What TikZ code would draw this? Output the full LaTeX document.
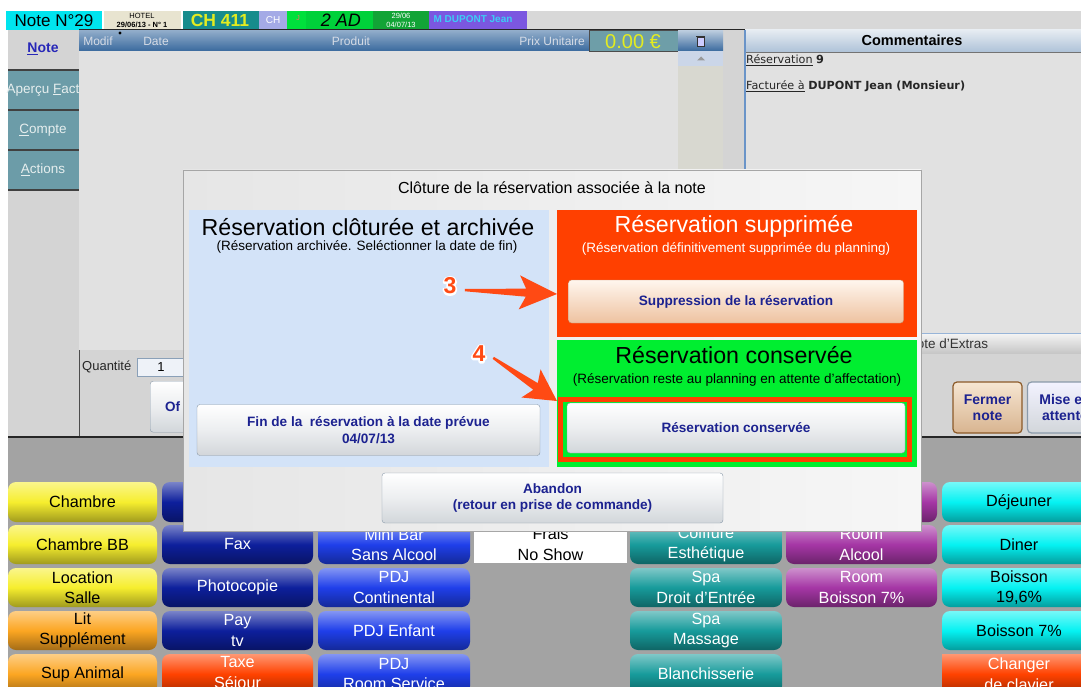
\documentclass[tikz,border=0pt]{standalone}
\usepackage{fontspec}
\setmainfont{Liberation Sans}
\newfontfamily\verdfont{DejaVu Sans}
\usetikzlibrary{calc}
\definecolor{barcyan}{HTML}{00E4EE}
\definecolor{barbeige}{HTML}{E8E4D0}
\definecolor{barteal}{HTML}{178C8C}
\definecolor{barlav}{HTML}{A4AAE6}
\definecolor{barjgreen}{HTML}{00E03C}
\definecolor{bargreen}{HTML}{00D13A}
\definecolor{bardgreen}{HTML}{12A436}
\definecolor{barpurple}{HTML}{7B57E0}
\definecolor{barname}{HTML}{3CCDF5}
\definecolor{barrest}{HTML}{D8D8D8}
\definecolor{chyellow}{HTML}{E4EC20}
\definecolor{maingrey}{HTML}{D4D4D4}
\definecolor{tablebg}{HTML}{E1E1E1}
\definecolor{tabc}{HTML}{6C9CA8}
\definecolor{tabtext}{HTML}{E6EEEE}
\definecolor{notetab}{HTML}{2828B8}
\definecolor{hdtop}{HTML}{93AECB}
\definecolor{hdbot}{HTML}{3A6A9E}
\definecolor{hdtext}{HTML}{D6DCE6}
\definecolor{pricebg}{HTML}{6E9EA8}
\definecolor{scrolltop}{HTML}{CBD6E8}
\definecolor{scrollbg}{HTML}{D8D8D0}
\definecolor{combord}{HTML}{6A94C8}
\definecolor{comtop}{HTML}{E6ECF2}
\definecolor{combot}{HTML}{AEC2D8}
\definecolor{btntext}{HTML}{1C2290}
\definecolor{btnborder}{HTML}{8A9AAA}
\definecolor{btnbot}{HTML}{D2D6DA}
\definecolor{btnmid}{HTML}{ECEEF0}
\definecolor{peachtop}{HTML}{FFF6EE}
\definecolor{peachbot}{HTML}{EEC2A0}
\definecolor{peachborder}{HTML}{C88E68}
\definecolor{fermtop}{HTML}{F6E6D2}
\definecolor{fermbot}{HTML}{D8B490}
\definecolor{fermborder}{HTML}{8C5A28}
\definecolor{kbbg}{HTML}{A3A3A3}
\definecolor{kyellow}{HTML}{F6EE2E}
\definecolor{korange}{HTML}{FCA622}
\definecolor{kdblue}{HTML}{0D1F9C}
\definecolor{kblue}{HTML}{1F3FEA}
\definecolor{kred}{HTML}{FF4200}
\definecolor{kteal}{HTML}{179B9B}
\definecolor{kpurple}{HTML}{A536A5}
\definecolor{kcyan}{HTML}{05F2F2}
\definecolor{panblue}{HTML}{D3E3F8}
\definecolor{panred}{HTML}{FF4000}
\definecolor{pangreen}{HTML}{00EE30}
\definecolor{callred}{HTML}{FF4A14}
\definecolor{dlgl}{HTML}{E6E6E6}
\definecolor{dlgr}{HTML}{F6F6F6}
\definecolor{qbox}{HTML}{EEF2F8}
\definecolor{qborder}{HTML}{8AA0B8}
\tikzset{
  key/.style={rounded corners=8pt, minimum height=39pt, minimum width=150pt, inner sep=0pt,
    align=center, font=\fontsize{16.2}{20.5}\selectfont,
    top color=#1!55!white, bottom color=#1!65!black, middle color=#1},
  dlgbtn/.style={rounded corners=3pt, draw=btnborder, top color=white, bottom color=btnbot,
    middle color=btnmid, inner sep=0pt, align=center,
    font=\bfseries\fontsize{13.6}{16.5}\selectfont, text=btntext},
  pantitle/.style={inner sep=0pt, font=\fontsize{23.2}{24}\selectfont},
  pansub/.style={inner sep=0pt, font=\fontsize{13.5}{15}\selectfont},
  tabtxt/.style={inner sep=0pt, font=\fontsize{13.5}{15}\selectfont, text=tabtext},
  hdtxt/.style={inner sep=0pt, font=\fontsize{12}{13}\selectfont, text=hdtext},
  small/.style={inner sep=0pt, font=\fontsize{7.5}{8}\selectfont},
  callnum/.style={inner sep=0pt, font=\bfseries\fontsize{23}{23}\selectfont},
  comtxt/.style={inner sep=0pt, anchor=west, font=\verdfont\fontsize{11.2}{13}\selectfont, text=black!85}
}
\newcommand\callarrow[2]{%
  \fill[callred] (#2)
   -- ($(#1)!0.60!(#2)!17pt!90:(#2)$)
   -- ($(#1)!0.67!(#2)!4pt!90:(#2)$)
   -- ($(#1)!0.02!(#2)!1.2pt!90:(#2)$)
   -- ($(#1)!0.02!(#2)!1.2pt!-90:(#2)$)
   -- ($(#1)!0.67!(#2)!4pt!-90:(#2)$)
   -- ($(#1)!0.60!(#2)!17pt!-90:(#2)$)
   -- cycle;}
\newcommand\strokedigit[1]{\special{pdf:literal direct 1 Tr 1 1 1 RG 3.5 w 1 j}#1\special{pdf:literal direct 0 Tr}}
\begin{document}
\begin{tikzpicture}[x=1pt,y=-1pt]
\useasboundingbox (0,0) rectangle (1081,687);
\clip (0,0) rectangle (1081,687);
\fill[white] (0,0) rectangle (1081,687);

% ---------- top bar
\fill[barcyan] (6,11) rectangle (102,30);
\node[inner sep=0pt, font=\fontsize{17}{17}\selectfont] (notenum) at (54,20.5) {Note N°29};
\fill[barbeige] (104,11) rectangle (181,30);
\node[small] (hotel) at (142,16) {HOTEL};
\node[small, font=\bfseries\fontsize{7.5}{8}\selectfont] (hdate) at (142,25) {29/06/13 - N° 1};
\fill[barteal] (183,11) rectangle (259,30);
\node[inner sep=0pt, font=\bfseries\fontsize{17.5}{18}\selectfont, text=chyellow] (room) at (220,20.5) {CH 411};
\fill[barlav] (259,11) rectangle (287,30);
\node[inner sep=0pt, font=\fontsize{10}{10}\selectfont, text=white] (chtype) at (273,20) {CH};
\fill[barjgreen] (287,11) rectangle (306,30);
\node[inner sep=0pt, font=\fontsize{7}{7}\selectfont, text=red!60] (jmark) at (298,18) {J};
\fill[bargreen] (306,11) rectangle (373,30);
\node[inner sep=0pt, font=\itshape\fontsize{18}{18}\selectfont] (adults) at (341,20.5) {2 AD};
\fill[bardgreen] (373,11) rectangle (429,30);
\node[small, text=white] (d1) at (401,15.5) {29/06};
\node[small, text=white] (d2) at (401,25) {04/07/13};
\fill[barpurple] (429,11) rectangle (527,30);
\node[inner sep=0pt, font=\bfseries\fontsize{10}{10}\selectfont, text=barname] (guest) at (473,19) {M DUPONT Jean};
\fill[barrest] (527,11) rectangle (1081,30);

% ---------- main area
\fill[maingrey] (8,30) rectangle (1081,437);
\fill[tabc] (8,70) rectangle (79,190);
\foreach \yy in {70,110,150,190} \draw[black!75, line width=1.2pt] (8,\yy) -- (79,\yy);
\draw[black!70, line width=1pt] (79,30) -- (79,437);
\node[inner sep=0pt, font=\bfseries\fontsize{14}{15}\selectfont, text=notetab] (tnote) at (43,49) {\underline{N}ote};
\node[tabtxt] (tfact) at (43,90) {Aperçu \underline{F}act};
\node[tabtxt] (tcompte) at (43,130) {\underline{C}ompte};
\node[tabtxt] (tactions) at (43,170) {\underline{A}ctions};

\fill[tablebg] (79,51) rectangle (678,350);
\shade[top color=hdtop, bottom color=hdbot] (79,30) rectangle (589,51);
\node[hdtxt] (hmodif) at (98,41) {Modif};
\node[hdtxt] (hdate2) at (156,41) {Date};
\node[hdtxt] (hprod) at (351,41) {Produit};
\node[hdtxt, anchor=east] (hprix) at (585,41) {Prix Unitaire};
\fill[black] (120,33) circle (1.6);
\fill[pricebg] (589,30) rectangle (678,51);
\draw[black!70] (589,30) rectangle (678,51);
\node[inner sep=0pt, font=\fontsize{20}{20}\selectfont, text=chyellow] (price) at (633,42) {0.00 €};
\shade[top color=hdtop!60!white, bottom color=hdbot] (678,30) rectangle (723,51);
\draw[black!80, line width=0.8pt, fill=white!80!blue] (697.5,37) rectangle (704.5,46);
\draw[black!80, line width=0.8pt] (696,36) -- (705,36);
\fill[scrolltop] (678,51) rectangle (723,66);
\fill[black!40] (697,60.5) -- (705,60.5) -- (701,56.5) -- cycle;
\fill[scrollbg] (678,66) rectangle (723,350);
\draw[black!85, line width=1pt] (79,30) -- (1081,30);

% comments panel
\shade[top color=comtop, bottom color=combot] (745,30) rectangle (1081,52);
\fill[tablebg] (745,52) rectangle (1081,333);
\draw[black!55] (745,52) -- (1081,52);
\draw[combord, line width=1.2pt] (745,30) -- (745,333);
\node[inner sep=0pt, font=\bfseries\fontsize{14.5}{15}\selectfont] (comhead) at (912,40) {Commentaires};
\node[comtxt] (cres) at (746,60) {\underline{Réservation} \textbf{9}};
\node[comtxt] (cfac) at (746,86) {\underline{Facturée à} \textbf{DUPONT Jean (Monsieur)}};
\shade[top color=white!96!black, bottom color=black!22] (745,333) rectangle (1081,353);
\draw[combord!70] (745,333) -- (1081,333);
\node[inner sep=0pt, anchor=west, font=\fontsize{13.5}{14}\selectfont, text=black!80] (extras) at (907,344) {Note d'Extras};

% lower main
\node[inner sep=0pt, anchor=west, font=\fontsize{13}{14}\selectfont, text=black!85] (qlabel) at (82,367) {Quantité};
\draw[qborder, fill=qbox] (137,358) rectangle (195,376);
\node[inner sep=0pt, font=\fontsize{13}{14}\selectfont] (qval) at (161,367) {1};
\node[dlgbtn, minimum width=60pt, minimum height=51pt, anchor=north west] (offbtn) at (150,381) {};
\node[inner sep=0pt, anchor=west, font=\bfseries\fontsize{13.5}{14}\selectfont, text=btntext] (offtxt) at (165,407) {Of};
\node[rounded corners=4pt, draw=fermborder, line width=1.2pt, top color=fermtop, bottom color=fermbot,
  minimum width=69pt, minimum height=51pt, inner sep=0pt, align=center,
  font=\bfseries\fontsize{14}{16.5}\selectfont, text=btntext] (fermer) at (987.5,407.5) {Fermer\\note};
\node[rounded corners=4pt, draw=btnborder, line width=1.2pt, top color=white!95!blue, bottom color=btnbot,
  minimum width=75pt, minimum height=51pt, inner sep=0pt, align=center,
  font=\bfseries\fontsize{14}{16.5}\selectfont, text=btntext] (attente) at (1065,407.5) {Mise en\\attente};

% ---------- keyboard
\fill[kbbg] (8,437) rectangle (1081,687);
\draw[black!85, line width=1.2pt] (8,437) -- (1081,437);

\node[key=kyellow, minimum width=149pt, minimum height=40pt] (k11) at (82.5,502) {Chambre};
\node[key=kyellow, minimum width=149pt] (k12) at (82.5,544.5) {Chambre BB};
\node[key=kyellow, minimum width=149pt] (k13) at (82.5,587.5) {Location\\Salle};
\node[key=korange, minimum width=149pt] (k14) at (82.5,630.5) {Lit\\Supplément};
\node[key=korange, minimum width=149pt, minimum height=40pt] (k15) at (82.5,674) {Sup Animal};

\node[key=kdblue, minimum width=151pt, minimum height=40pt] (k21) at (237.5,502) {};
\node[key=kdblue, minimum width=151pt, text=white] (k22) at (237.5,544.5) {Fax};
\node[key=kdblue, minimum width=151pt, text=white] (k23) at (237.5,587.5) {Photocopie};
\node[key=kdblue, minimum width=151pt, text=white] (k24) at (237.5,630.5) {Pay\\tv};
\node[key=kred, minimum width=151pt, minimum height=40pt, text=white] (k25) at (237.5,674) {Taxe\\Séjour};

\node[key=kblue, minimum width=152pt, text=white] (k32) at (394,544.5) {Mini Bar\\Sans Alcool};
\node[key=kblue, minimum width=152pt, text=white] (k33) at (394,587.5) {PDJ\\Continental};
\node[key=kblue, minimum width=152pt, text=white] (k34) at (394,630.5) {PDJ Enfant};
\node[key=kblue, minimum width=152pt, minimum height=40pt, text=white] (k35) at (394,674) {PDJ\\Room Service};

\node[fill=white, minimum width=153pt, minimum height=38pt, inner sep=0pt, align=center,
  font=\fontsize{16.2}{20.5}\selectfont] (k42) at (550.5,544) {Frais\\No Show};

\node[key=kteal, minimum width=152pt, text=white] (k52) at (706,544.5) {Coiffure\\Esthétique};
\node[key=kteal, minimum width=152pt, text=white] (k53) at (706,587.5) {Spa\\Droit d'Entrée};
\node[key=kteal, minimum width=152pt, text=white] (k54) at (706,630.5) {Spa\\Massage};
\node[key=kteal, minimum width=152pt, minimum height=40pt, text=white] (k55) at (706,674) {Blanchisserie};

\node[key=kpurple, minimum width=151pt, minimum height=40pt] (k61) at (861.5,502) {};
\node[key=kpurple, minimum width=151pt, text=white] (k62) at (861.5,544.5) {Room\\Alcool};
\node[key=kpurple, minimum width=151pt, text=white] (k63) at (861.5,587.5) {Room\\Boisson 7\%};

\node[key=kcyan, minimum width=154pt, minimum height=40pt] (k71) at (1019,502) {Déjeuner};
\node[key=kcyan, minimum width=154pt] (k72) at (1019,544.5) {Diner};
\node[key=kcyan, minimum width=154pt] (k73) at (1019,587.5) {Boisson\\19,6\%};
\node[key=kcyan, minimum width=154pt] (k74) at (1019,630.5) {Boisson 7\%};
\node[key=kred, rounded corners=0pt, minimum width=154pt, minimum height=40pt, text=white] (k75) at (1019,674) {Changer\\de clavier};

% ---------- dialog
\shade[left color=dlgl, right color=dlgr] (183,170) rectangle (921,531);
\draw[black!35] (183,170) rectangle (921,531);
\node[inner sep=0pt, font=\fontsize{16}{17}\selectfont] (dlgtitle) at (552,188) {Clôture de la réservation associée à la note};

\fill[panblue] (189,210) rectangle (549,467);
\fill[panred] (557,210) rectangle (917,337);
\fill[pangreen] (557,340) rectangle (917,467);

\node[pantitle] (ptit1) at (368,227) {Réservation clôturée et archivée};
\node[pansub] (psub1) at (367,247) {(Réservation archivée. Seléctionner la date de fin)};
\node[pantitle, text=white] (ptit2) at (734,226) {Réservation supprimée};
\node[pansub, text=white] (psub2) at (736,249) {(Réservation définitivement supprimée du planning)};
\node[pantitle] (ptit3) at (734,355) {Réservation conservée};
\node[pansub] (psub3) at (737,380) {(Réservation reste au planning en attente d'affectation)};

\node[dlgbtn, minimum width=343pt, minimum height=51pt] (bfin) at (368.5,430) {Fin de la \ réservation à la date prévue\\04/07/13};
\node[dlgbtn, draw=peachborder, top color=peachtop, bottom color=peachbot, middle color=peachtop!50!peachbot,
  minimum width=335pt, minimum height=43pt] (bsupp) at (736,301.5) {Suppression de la réservation};
\draw[panred, line width=5pt] (560.5,399.5) rectangle (909.5,459.5);
\node[dlgbtn, minimum width=338pt, minimum height=50pt] (bcons) at (736,428) {Réservation conservée};
\node[dlgbtn, minimum width=341pt, minimum height=50pt] (babandon) at (552.5,498) {Abandon\\(retour en prise de commande)};

% ---------- callouts
\coordinate (tail3) at (463,290);
\coordinate (tip3) at (557,294);
\coordinate (tail4) at (492,357);
\coordinate (tip4) at (557,401);
\callarrow{tail3}{tip3}
\callarrow{tail4}{tip4}
\node[callnum, text=white] (halo3) at (450,286) {\strokedigit{3}};
\node[callnum, text=white] (halo4) at (479,354) {\strokedigit{4}};
\node[callnum, text=callred] (num3) at (450,286) {3};
\node[callnum, text=callred] (num4) at (479,354) {4};
\end{tikzpicture}
\end{document}
